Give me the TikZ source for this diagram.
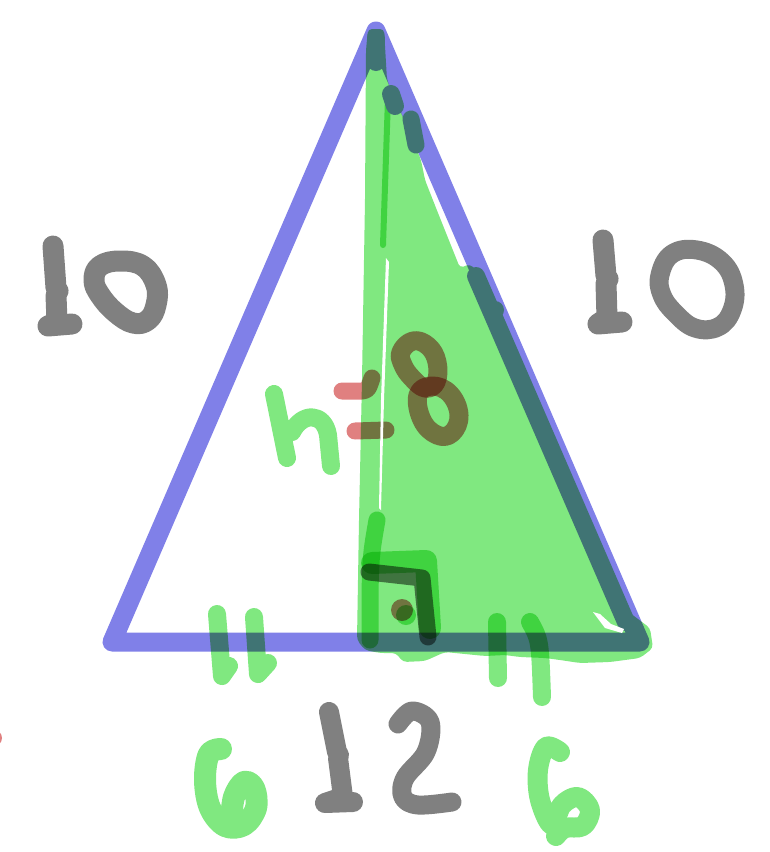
\documentclass[tikz,border=0pt]{standalone}
\definecolor{bl}{HTML}{8080E8}
\definecolor{gr}{HTML}{80E880}
\definecolor{gy}{HTML}{808080}
\definecolor{rd}{HTML}{E08080}
\definecolor{tl}{HTML}{407474}
\tikzset{
  pen/.style={line cap=round,line join=round,blend mode=multiply},
  grayink/.style={pen,gy,line width=20},
  greenink/.style={pen,gr,line width=20},
  redink/.style={pen,rd,line width=18},
  tealink/.style={tl,line cap=round,line join=round},
}
\begin{document}
\begin{tikzpicture}[x=1pt,y=-1pt]
\useasboundingbox (0,0) rectangle (769,852);
\fill[white] (0,0) rectangle (769,852);

% blue triangle
\draw[pen,bl,line width=19] (376,31) -- (640,642) -- (112,642) -- cycle;

% green shading of the right half
\fill[gr,blend mode=multiply,rounded corners=4pt]
  (366,50) -- (368,29) -- (384,29) -- (387,80) -- (400,110)
  -- (421,160) -- (425,180) -- (438,213) -- (460,268)
  -- (470,264) -- (481,275) -- (490,296) -- (626,610) -- (650,628)
  -- (653,648) -- (640,658) -- (610,662) -- (580,663) -- (560,660)
  -- (545,658) -- (520,657) -- (505,655) -- (485,656) -- (465,654)
  -- (445,652) -- (425,661) -- (403,662) -- (396,653) -- (380,653)
  -- (365,650) -- (357,640) -- (359,520) -- (362,380) -- (365,200) -- cycle;

% overlapping green strokes (darker)
\draw[pen,gr,line width=6] (388,98) -- (383,245);
\draw[pen,gr,line width=17] (377,520) .. controls (370,560) .. (370,640);
\draw[pen,gr,line width=22] (372,563) -- (426,561) -- (430,628);

% dark bumps where green meets the blue edge
\draw[tealink,line width=18] (376,38) -- (376,62);
\draw[tealink,line width=18] (391,94) -- (395,106);
\draw[tealink,line width=17] (411,119) -- (416,145);
\draw[tealink,line width=18] (476,276) -- (626,622);
\fill[tl] (495,310) circle (9);

% white gaps
\fill[white] (593,612) -- (600,614) -- (611,624) -- (624,629) -- (622,633) -- (605,628) -- cycle;

% left 10
\draw[grayink,line width=21] (53,246) -- (56,288) -- (58,291) -- (56,295) -- (57,322) -- (48,326) -- (72,324);
\draw[grayink,line width=21] plot[smooth cycle,tension=0.7] coordinates
  {(94,280) (100,266) (120,261) (143,266) (156,285) (156,305) (148,320) (133,323) (115,312) (100,295)};

% right 10
\draw[grayink,line width=21] (603,240) -- (606,276) -- (608,279) -- (606,283) -- (607,318) -- (598,324) -- (622,322);
\draw[grayink,line width=19] plot[smooth cycle,tension=0.7] coordinates
  {(660,275) (672,254) (697,250) (722,262) (734,285) (732,310) (718,327) (695,328) (675,313) (662,295)};

% h = 8
\draw[greenink,line width=18] (274,394) -- (287,458)
  (292,432) .. controls (302,412) and (324,412) .. (328,435) -- (331,466);
\draw[redink,line width=17] (342,391) -- (362,391) .. controls (368,390) .. (372,378);
\draw[redink,line width=17] (355,431) -- (386,430);
\draw[redink,line width=19] plot[smooth cycle,tension=0.7] coordinates
  {(401,352) (413,341) (428,346) (437,362) (436,382) (425,388) (412,378) (403,365)};
\draw[redink,line width=19] plot[smooth cycle,tension=0.7] coordinates
  {(418,395) (432,386) (450,394) (459,415) (452,433) (437,435) (422,420)};

% right angle mark
\draw[grayink,line width=17] (369,572) -- (422,578) -- (428,637);
\fill[rd,blend mode=multiply] (402,610) circle (11);
\fill[gr,blend mode=multiply] (406,615) circle (10);

% tick marks
\draw[greenink,line width=18] (217,614) -- (222,676) -- (229,666);
\draw[greenink,line width=18] (254,617) -- (258,674) -- (268,663);
\draw[greenink,line width=18] (497,622) -- (498,678);
\draw[greenink,line width=18] (530,622) .. controls (540,640) .. (542,697);

% 12
\draw[grayink,line width=20] (329,712) -- (337,752) -- (339,755) -- (338,758) -- (343,797) -- (325,803) -- (353,802);
\draw[grayink,line width=19] plot[smooth,tension=0.6] coordinates
  {(398,724) (412,711) (430,722) (426,752) (405,778) (403,797) (418,805) (452,802)};

% 6 6
\draw[greenink,line width=22] plot[smooth,tension=0.6] coordinates
  {(221,749) (209,754) (205,780) (210,808) (225,826) (244,825) (256,808) (254,788) (244,782) (234,797) (231,822)};
\draw[greenink,line width=20] plot[smooth,tension=0.6] coordinates
  {(560,752) (546,747) (538,770) (540,800) (552,825) (562,805) (578,797) (590,810) (583,826) (565,828) (556,836)};

% red speck at the left edge
\fill[rd,blend mode=multiply] (-6,738) circle (8);

% thin white line through the green
\fill[white] (386,258) -- (389,262) -- (384,400) -- (381,510) -- (379,508) -- (381,400) -- cycle;
\end{tikzpicture}
\end{document}
